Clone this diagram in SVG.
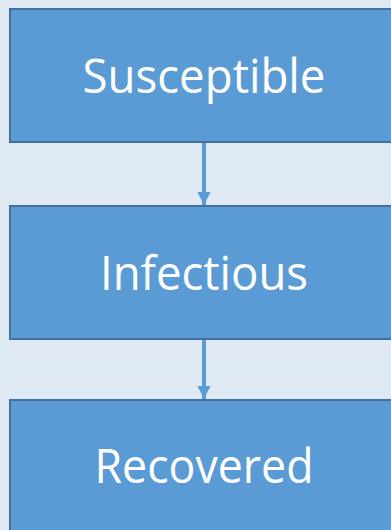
<svg xmlns="http://www.w3.org/2000/svg" width="391" height="530" viewBox="0 0 391 530">
<style>
.box{fill:#5b9bd5;stroke:#41719c;stroke-width:2}
.lbl{fill:#ffffff;font-family:"Open Sans","Noto Sans",sans-serif;font-size:47px;text-anchor:middle}
.conn{stroke:#5b9bd5;stroke-width:4;fill:none}
</style>
<defs>
<marker id="ah" markerUnits="userSpaceOnUse" markerWidth="14" markerHeight="14" refX="13" refY="7" orient="auto">
<path d="M0,0.5 L13,7 L0,13.5 Z" fill="#5b9bd5"/>
</marker>
</defs>
<rect width="391" height="530" fill="#dfe9f4"/>
<g id="connectors">
<line class="conn" x1="204" y1="142" x2="204" y2="205" marker-end="url(#ah)"/>
<line class="conn" x1="204" y1="339" x2="204" y2="399" marker-end="url(#ah)"/>
</g>
<g id="susceptible">
<rect class="box" x="10" y="9" width="390" height="133"/>
<text class="lbl" x="204" y="93" textLength="243" lengthAdjust="spacingAndGlyphs">Susceptible</text>
</g>
<g id="infectious">
<rect class="box" x="10" y="206" width="390" height="133"/>
<text class="lbl" x="204" y="290" textLength="208" lengthAdjust="spacingAndGlyphs">Infectious</text>
</g>
<g id="recovered">
<rect class="box" x="10" y="400" width="390" height="140"/>
<text class="lbl" x="204" y="483" textLength="219" lengthAdjust="spacingAndGlyphs">Recovered</text>
</g>
</svg>
